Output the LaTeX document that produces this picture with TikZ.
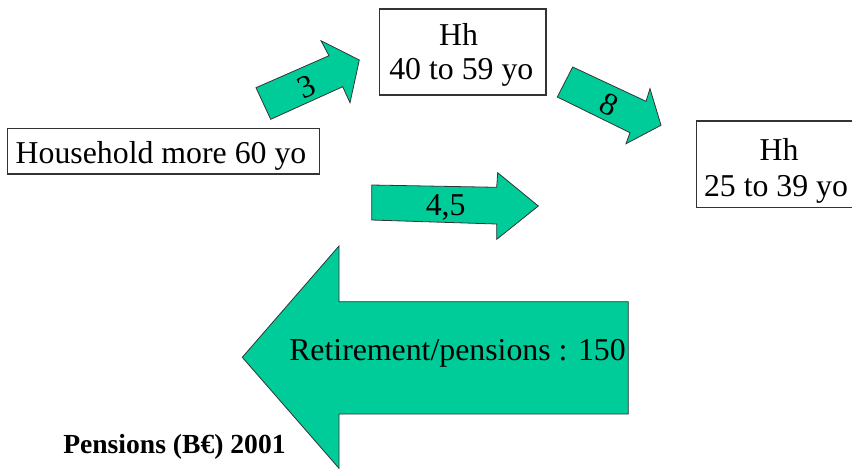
\documentclass[tikz,border=0pt]{standalone}
\usepackage{fontspec}
\setmainfont{Liberation Serif}
\usetikzlibrary{fit}
\definecolor{arrowgreen}{HTML}{00CC99}
\definecolor{edgegray}{HTML}{333333}
\begin{document}
\begin{tikzpicture}[x=0.75pt,y=-0.75pt,
  box/.style={draw=edgegray, line width=0.9pt, fill=white, inner sep=0pt},
  txt/.style={inner sep=0pt, anchor=base, font=\fontsize{23.85}{26}\selectfont},
  rtxt/.style={inner sep=0pt, anchor=center, font=\fontsize{23.85}{26}\selectfont},
  btxt/.style={inner sep=0pt, anchor=base west, font=\bfseries\fontsize{20.7}{24}\selectfont},
  blk/.style={fill=arrowgreen, draw=edgegray, line width=0.6pt, line join=miter}]
\useasboundingbox (0,0) rectangle (852,469);
\clip (0,0) rectangle (852,469);
\fill[white] (0,0) rectangle (852,469);

% boxes
\node[box, fit={(7.3,128.3) (319.3,174)}] (old) {};
\node[box, fit={(379.3,9) (546,95)}] (mid) {};
\node[box, fit={(696.7,121) (863,207.7)}] (young) {};

\node[txt] (oldtxt) at (161,163.3) {Household more 60 yo};
\node[txt] (midtxta) at (458.5,45.7) {Hh};
\node[txt] (midtxtb) at (461.3,79) {40 to 59 yo};
\node[txt] (youngtxta) at (779,160) {Hh};
\node[txt] (youngtxtb) at (776,196) {25 to 39 yo};

% block arrows
\draw[blk] (256,87.7) -- (329,55.7) -- (321,40.7) -- (359.3,60) -- (350,102.7) -- (342.7,86.7) -- (270.7,119.3) -- cycle;
\node[rtxt, rotate=24] (lthree) at (306.7,86.7) {3};

\draw[blk] (572.7,67) -- (646,101.3) -- (650,88.7) -- (661,125.3) -- (626,143.7) -- (630,132.7) -- (557.3,97) -- cycle;
\node[rtxt, rotate=-26] (leight) at (609,104.3) {8};

\draw[blk] (371.7,185) -- (496.7,187.3) -- (497.7,172.7) -- (538.3,206) -- (496.7,239.3) -- (496.7,224) -- (371.7,220) -- cycle;
\node[txt] (lfour) at (445.7,215) {4,5};

\draw[blk] (242.3,357.3) -- (339,246) -- (339,301.7) -- (628.3,301.7) -- (628.3,414) -- (339,414) -- (339,468.3) -- cycle;
\node[txt] (lret) at (457.5,360.7) {Retirement/pensions : 150};

\node[btxt] (title) at (63,453.3) {Pensions (B€) 2001};
\end{tikzpicture}
\end{document}
